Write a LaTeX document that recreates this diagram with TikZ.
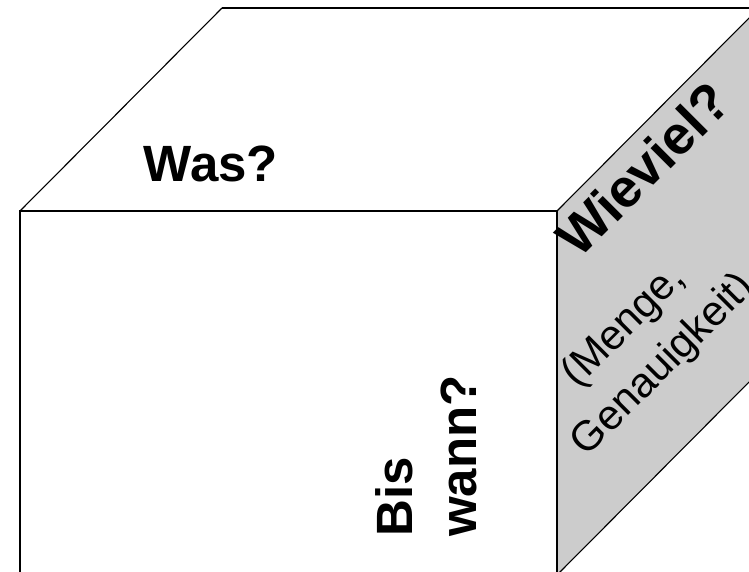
\documentclass[tikz,border=0pt]{standalone}
\usepackage{fontspec}
\setmainfont{Liberation Sans}
\begin{document}
\begin{tikzpicture}[x=1pt,y=1pt,
  edge/.style={draw=black,line width=2pt},
  thinedge/.style={draw=black,line width=1.1pt},
  side/.style={fill=sidegray},
  bigq/.style={font=\fontsize{51}{64}\selectfont\bfseries,inner sep=0pt},
  note/.style={font=\fontsize{42}{55}\selectfont,inner sep=0pt,align=center}]
\definecolor{sidegray}{RGB}{204,204,204}
\useasboundingbox (0,0) rectangle (749,571);
\clip (0,0) rectangle (749,571);
% cube corners
\coordinate (ftl) at (20,360);
\coordinate (ftr) at (557,360);
\coordinate (fbl) at (20,-4);
\coordinate (fbr) at (557,-4);
\coordinate (btl) at (222,563);
\coordinate (btr) at (759,563);
\coordinate (bbr) at (759,199);
% right face
\fill[side] (ftr) -- (btr) -- (bbr) -- (fbr) -- cycle;
\draw[thinedge] (ftr) -- (btr);
\draw[thinedge] (fbr) -- (bbr);
\draw[thinedge] (ftl) -- (btl);
\draw[edge] (btl) -- (btr);
\draw[thinedge] (ftr) -- (fbr);
% front face
\draw[edge] (fbl) -- (ftl) -- (ftr);
% labels
\node[bigq] (was) at (211,407) {Was?};
\node[bigq,rotate=90,align=left] (wann) at (426,115) {Bis\\wann?};
\node[bigq,font=\fontsize{54}{64}\selectfont\bfseries,rotate=45] (wieviel) at (643,402) {Wieviel?};
\node[note,rotate=45] (menge) at (644,225) {(Menge,\\Genauigkeit)};
\end{tikzpicture}
\end{document}
